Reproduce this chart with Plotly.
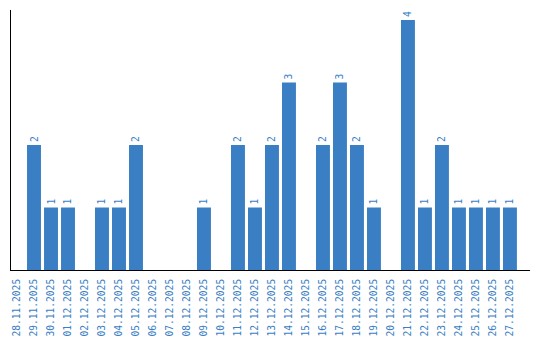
import plotly.graph_objects as go

dates = ["28.11.2025","29.11.2025","30.11.2025","01.12.2025","02.12.2025","03.12.2025",
         "04.12.2025","05.12.2025","06.12.2025","07.12.2025","08.12.2025","09.12.2025",
         "10.12.2025","11.12.2025","12.12.2025","13.12.2025","14.12.2025","15.12.2025",
         "16.12.2025","17.12.2025","18.12.2025","19.12.2025","20.12.2025","21.12.2025",
         "22.12.2025","23.12.2025","24.12.2025","25.12.2025","26.12.2025","27.12.2025"]
counts = [0,2,1,1,0,1,1,2,0,0,0,1,0,2,1,2,3,0,2,3,2,1,0,4,1,2,1,1,1,1]

blue = "#3a7ec4"
labels = [str(v) if v > 0 else "" for v in counts]

fig = go.Figure(go.Bar(
    x=dates, y=counts, marker_color=blue, marker_line_width=0,
    text=labels, textposition="outside", textangle=-90,
    textfont=dict(family="DejaVu Sans Mono", size=9.6, color=blue),
    cliponaxis=False,
))
fig.update_layout(
    width=540, height=340,
    margin=dict(l=11, r=10, t=10, b=70, autoexpand=False),
    paper_bgcolor="white", plot_bgcolor="white",
    bargap=0.18, showlegend=False,
)
fig.update_xaxes(
    type="category", range=[-0.353, 30.18], automargin=False,
    showline=True, linecolor="black", linewidth=1,
    showgrid=False, ticks="", tickangle=-90, ticklabelstandoff=4,
    tickfont=dict(family="DejaVu Sans Mono", size=9.6, color=blue),
)
fig.update_yaxes(
    range=[0, 4.16], automargin=False, showline=True, linecolor="black", linewidth=1,
    showgrid=False, zeroline=False, showticklabels=False, ticks="",
)
fig.write_html("out.html")
